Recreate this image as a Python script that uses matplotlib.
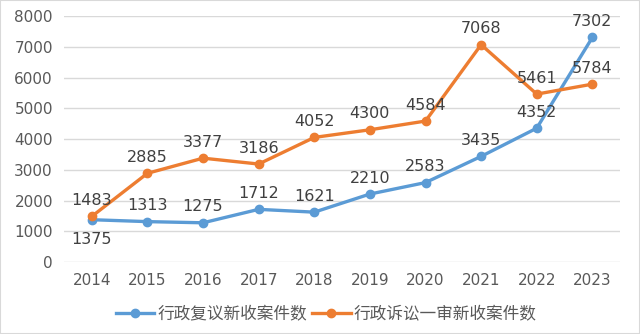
import matplotlib.pyplot as plt
from matplotlib.patches import Rectangle

plt.rcParams['font.family'] = ['DejaVu Sans', 'Noto Sans CJK SC']

years = ['2014', '2015', '2016', '2017', '2018', '2019', '2020', '2021', '2022', '2023']
fuyi = [1375, 1313, 1275, 1712, 1621, 2210, 2583, 3435, 4352, 7302]
susong = [1483, 2885, 3377, 3186, 4052, 4300, 4584, 7068, 5461, 5784]
name_fuyi = '行政复议新收案件数'
name_susong = '行政诉讼一审新收案件数'

blue = '#5B9BD5'
orange = '#ED7D31'
grey = '#595959'

fig = plt.figure(figsize=(6.4, 3.34), dpi=100)
ax = fig.add_axes([0.1, 0.2156, 0.869, 0.7364])
x = list(range(len(years)))

ax.plot(x, fuyi, color=blue, lw=2.4, marker='o', ms=6, label=name_fuyi, zorder=3)
ax.plot(x, susong, color=orange, lw=2.4, marker='o', ms=6, label=name_susong, zorder=3)

for i, v in enumerate(fuyi):
    if i == 0:
        ax.annotate(str(v), (i, v), xytext=(0, -9), textcoords='offset points',
                    ha='center', va='top', fontsize=11.5, color='#404040')
    else:
        ax.annotate(str(v), (i, v), xytext=(0, 6), textcoords='offset points',
                    ha='center', va='bottom', fontsize=11.5, color='#404040')
for i, v in enumerate(susong):
    ax.annotate(str(v), (i, v), xytext=(0, 6), textcoords='offset points',
                ha='center', va='bottom', fontsize=11.5, color='#404040')

ax.set_xlim(-0.5, len(years) - 0.5)
ax.set_ylim(0, 8000)
ax.set_yticks(range(0, 8001, 1000))
ax.set_xticks(x)
ax.set_xticklabels(years)
ax.tick_params(length=0, labelsize=11, colors=grey, pad=8)
ax.grid(axis='y', color='#D9D9D9', lw=1)
ax.set_axisbelow(True)
for s in ax.spines.values():
    s.set_visible(False)

ax.legend(loc='upper center', bbox_to_anchor=(0.51, 0.104), bbox_transform=fig.transFigure,
          ncol=2, frameon=False, borderaxespad=0,
          labelcolor=grey, handlelength=2.3, handletextpad=0.2, columnspacing=0.3,
          prop={'family': ['Noto Sans CJK SC'], 'size': 12})

fig.patches.append(Rectangle((0, 0), 1, 1, transform=fig.transFigure, fill=False,
                             edgecolor='#D9D9D9', lw=1.5))

fig.savefig('out.png', dpi=100)
